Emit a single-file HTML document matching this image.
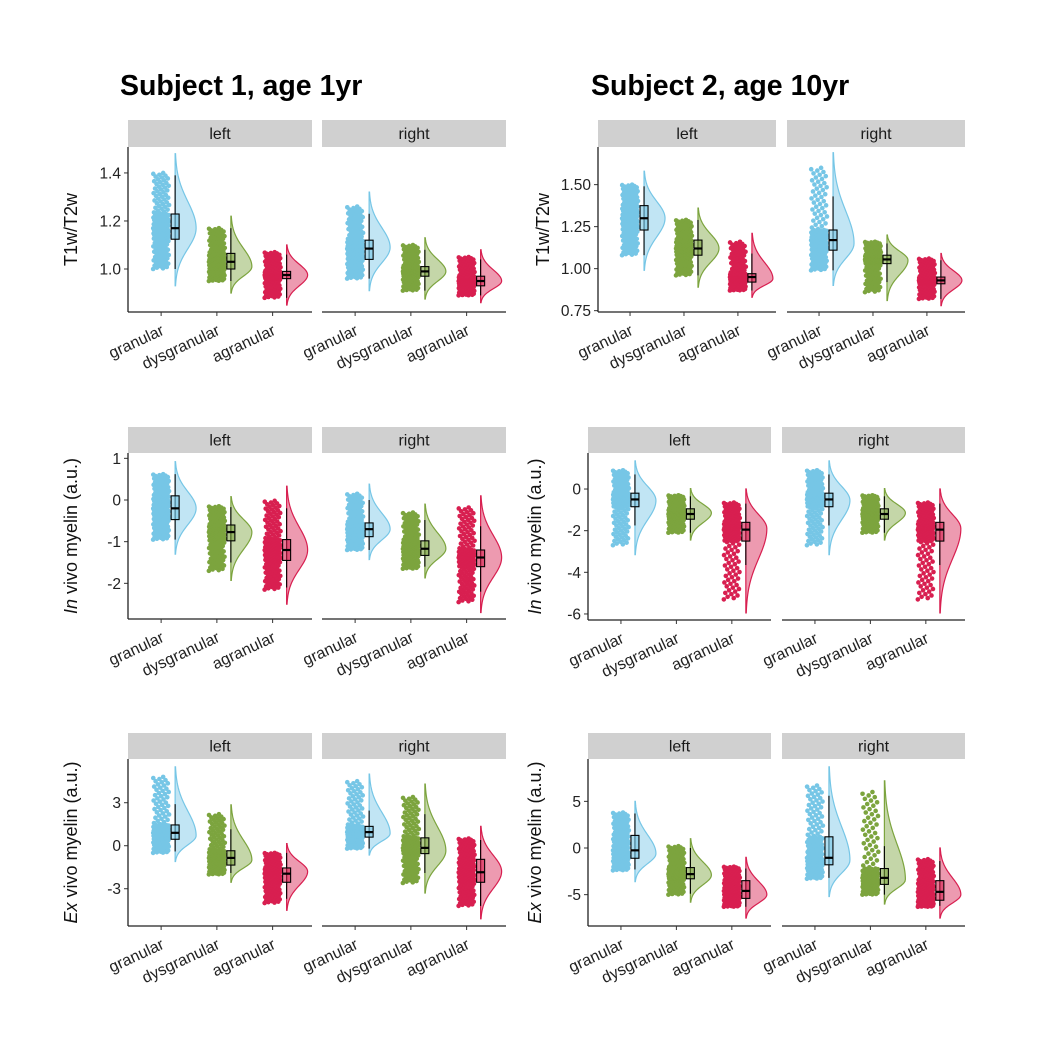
<!DOCTYPE html>
<html><head><meta charset="utf-8"><style>
html,body{margin:0;padding:0;background:#fff;}
svg{display:block;font-family:"Liberation Sans",Arial,sans-serif;}
</style></head><body>
<svg id="chart" width="1058" height="1052" viewBox="0 0 1058 1052" xmlns="http://www.w3.org/2000/svg">
<rect width="1058" height="1052" fill="#fff"/>
<text x="120" y="95" font-size="28.5" font-weight="bold" fill="#000">Subject 1, age 1yr</text>
<text x="591" y="95" font-size="28.5" font-weight="bold" fill="#000">Subject 2, age 10yr</text>
<g id="plots"></g>
</svg>
<script>
// ---- data (panel order: row1 S1 left/right, row1 S2 left/right, row2 ..., row3 ...) ----
const categories = ['granular','dysgranular','agranular'];
const hemispheres = ['left','right'];
const pointMin = [[1.0,0.95,0.88],[0.96,0.91,0.89],[1.08,0.96,0.87],[0.99,0.86,0.82],
  [-0.95,-1.7,-2.15],[-1.2,-1.65,-2.45],[-2.7,-2.1,-5.3],[-2.7,-2.1,-5.3],
  [-0.5,-2.0,-4.0],[-0.2,-2.6,-4.2],[-2.4,-5.0,-6.3],[-3.3,-5.0,-6.3]];
const q1 = [[1.124,1.0,0.96],[1.04,0.97,0.93],[1.23,1.08,0.92],[1.11,1.03,0.91],
  [-0.47,-0.98,-1.45],[-0.88,-1.33,-1.6],[-0.85,-1.45,-2.5],[-0.85,-1.45,-2.5],
  [0.45,-1.35,-2.55],[0.6,-0.55,-2.55],[-1.1,-3.3,-5.4],[-1.8,-3.9,-5.6]];
const median = [[1.17,1.03,0.975],[1.085,0.99,0.95],[1.30,1.12,0.95],[1.17,1.055,0.93],
  [-0.2,-0.77,-1.2],[-0.7,-1.17,-1.38],[-0.5,-1.2,-1.95],[-0.5,-1.2,-1.95],
  [0.9,-0.85,-1.95],[0.95,-0.15,-1.85],[-0.25,-2.8,-4.6],[-1.05,-3.2,-4.7]];
const q3 = [[1.229,1.065,0.99],[1.12,1.01,0.97],[1.375,1.17,0.97],[1.23,1.08,0.95],
  [0.1,-0.6,-0.95],[-0.55,-0.98,-1.2],[-0.2,-0.95,-1.6],[-0.2,-0.95,-1.6],
  [1.45,-0.35,-1.55],[1.35,0.55,-0.95],[1.35,-2.1,-3.5],[1.2,-2.2,-3.5]];
const pointMax = [[1.40,1.17,1.07],[1.26,1.10,1.05],[1.50,1.29,1.16],[1.60,1.16,1.06],
  [0.62,-0.15,-0.02],[0.15,-0.3,-0.18],[0.9,-0.3,-0.65],[0.9,-0.3,-0.65],
  [4.8,2.2,-0.5],[4.5,3.4,0.5],[3.8,0.2,-2.0],[6.7,6.0,-1.2]];
const whiskerLo = [[1.0,0.95,0.88],[0.96,0.91,0.89],[1.08,0.96,0.87],[0.99,0.92,0.82],
  [-0.95,-1.5,-2.1],[-1.2,-1.6,-2.2],[-1.75,-2.1,-3.65],[-1.75,-2.1,-3.65],
  [-0.4,-1.9,-3.7],[-0.2,-1.9,-4.2],[-2.3,-4.9,-6.3],[-3.2,-5.0,-6.2]];
const whiskerHi = [[1.39,1.17,1.06],[1.23,1.08,1.04],[1.49,1.29,1.09],[1.43,1.15,1.05],
  [0.62,-0.17,-0.2],[0.0,-0.48,-0.63],[0.7,-0.35,-0.7],[0.7,-0.35,-0.7],
  [2.9,1.15,-0.5],[2.45,2.2,0.4],[3.7,0.0,-2.2],[5.6,0.2,-1.4]];
const violinLo = [[0.93,0.90,0.85],[0.91,0.875,0.86],[0.99,0.89,0.83],[0.90,0.81,0.78],
  [-1.3,-1.93,-2.5],[-1.43,-1.87,-2.7],[-3.15,-2.45,-5.95],[-3.15,-2.45,-5.95],
  [-1.1,-2.55,-4.5],[-0.65,-3.3,-5.1],[-3.6,-5.8,-7.5],[-5.2,-6.0,-7.5]];
const violinHi = [[1.48,1.22,1.10],[1.32,1.13,1.08],[1.58,1.36,1.21],[1.69,1.20,1.09],
  [0.92,0.08,0.33],[0.38,-0.1,0.1],[1.35,0.02,0.0],[1.35,0.02,0.0],
  [5.5,2.85,0.15],[5.0,4.3,1.35],[5.0,1.0,-1.0],[8.7,7.2,0.0]];
const violinMode = [[1.17,1.01,0.975],[1.09,0.99,0.95],[1.30,1.12,0.94],[1.15,1.05,0.93],
  [-0.2,-0.77,-1.2],[-0.7,-1.17,-1.38],[-0.55,-1.15,-1.9],[-0.55,-1.15,-1.9],
  [0.7,-1.0,-1.8],[0.85,-0.35,-1.8],[-0.6,-2.9,-5.0],[-1.3,-3.4,-5.0]];
// axis data per facet grid (row1 S1, row1 S2, row2 S1, row2 S2, row3 S1, row3 S2)
const yDomains = [[0.821,1.508],[0.742,1.724],[-2.856,1.128],[-6.29,1.73],[-5.6,6.05],[-8.36,9.54]];
const yTicks = [[1.0,1.2,1.4],[0.75,1.0,1.25,1.5],[-2,-1,0,1],[-6,-4,-2,0],[-3,0,3],[-5,0,5]];
const yTickLabels = [['1.0','1.2','1.4'],['0.75','1.00','1.25','1.50'],['-2','-1','0','1'],['-6','-4','-2','0'],['-3','0','3'],['-5','0','5']];
const yTitles = [['T1w/T2w',''],['T1w/T2w',''],['In',' vivo myelin (a.u.)'],['In',' vivo myelin (a.u.)'],['Ex',' vivo myelin (a.u.)'],['Ex',' vivo myelin (a.u.)']];

// ---- layout ----
const grids = [
 {px:[128,322],w:184,strip:120,top:147,bot:312,tx:77},
 {px:[598,787],w:178,strip:120,top:147,bot:312,tx:549},
 {px:[128,322],w:184,strip:427,top:453,bot:619,tx:77},
 {px:[588,782],w:183,strip:427,top:453,bot:620,tx:541},
 {px:[128,322],w:184,strip:733,top:759,bot:926,tx:77},
 {px:[588,782],w:183,strip:733,top:759,bot:926,tx:541}];
const COLORS=['#76c6e6','#7ca43e','#d81f50'];
const NS='http://www.w3.org/2000/svg';
const root=document.getElementById('plots');
function mk(tag,attrs,parent){const e=document.createElementNS(NS,tag);for(const k in attrs)e.setAttribute(k,attrs[k]);(parent||root).appendChild(e);return e;}
function quant(v,p){if(p<=.25)return v[0]+(v[1]-v[0])*p/.25;if(p<=.5)return v[1]+(v[2]-v[1])*(p-.25)/.25;if(p<=.75)return v[2]+(v[3]-v[2])*(p-.5)/.25;return v[3]+(v[4]-v[3])*(p-.75)/.25;}

grids.forEach((g,gi)=>{
  const dom=yDomains[gi];
  const y=v=>g.bot-(v-dom[0])/(dom[1]-dom[0])*(g.bot-g.top);
  const grp=mk('g',{});
  
  
  const tt=mk('text',{transform:`translate(${g.tx},${(g.top+g.bot)/2}) rotate(-90)`,'text-anchor':'middle','font-size':18,fill:'#111'},grp);
  
  
  if(yTitles[gi][1]===''){tt.textContent=yTitles[gi][0];}
  else{const a=mk('tspan',{'font-style':'italic'},tt);a.textContent=yTitles[gi][0];const b=mk('tspan',{},tt);b.textContent=yTitles[gi][1];}
  const ax=g.px[0];
  yTicks[gi].forEach((t,ti)=>{
    const l=mk('line',{x1:ax-4,x2:ax,y1:y(t),y2:y(t),stroke:'#333','stroke-width':1},grp);
    
    
    const tx=mk('text',{x:ax-7,y:y(t)+5.5,'text-anchor':'end','font-size':15.5,fill:'#222'},grp);
    
    
    tx.textContent=yTickLabels[gi][ti];
  });
  const yl=mk('line',{x1:ax,x2:ax,y1:g.top,y2:g.bot,stroke:'#222','stroke-width':1.3},grp);
  
  
  g.px.forEach((px,hi)=>{
    const pi=gi*2+hi;
    const pg=mk('g',{},grp);
    
    
    const st=mk('rect',{x:px,y:g.strip,width:g.w,height:g.top-g.strip,fill:'#d0d0d0'},pg);
    
    
    const stt=mk('text',{x:px+g.w/2,y:(g.strip+g.top)/2+5.5,'text-anchor':'middle','font-size':16,fill:'#1a1a1a'},pg);
    
    
    stt.textContent=hemispheres[hi];
    const xl=mk('line',{x1:px,x2:px+g.w,y1:g.bot,y2:g.bot,stroke:'#222','stroke-width':1.3},pg);
    
    
    categories.forEach((c,ci)=>{
      const cx=px+0.18*g.w+0.303*g.w*ci;
      const col=COLORS[ci];
      const cg=mk('g',{},pg);
      
      
      const lo=violinLo[pi][ci],hi2=violinHi[pi][ci],mo=violinMode[pi][ci];
      const sL=(mo-lo)/2.8,sH=(hi2-mo)/2.8,bx=cx+14,W=21;
      let d=`M${bx},${y(lo)}`;
      for(let k=0;k<=60;k++){const v=lo+(hi2-lo)*k/60;const s=v<mo?sL:sH;const f=Math.exp(-0.5*((v-mo)/s)**2);d+=`L${(bx+W*f).toFixed(2)},${y(v).toFixed(2)}`;}
      d+=`L${bx},${y(hi2)}Z`;
      const vp=mk('path',{d:d,fill:col,'fill-opacity':0.45,stroke:col,'stroke-width':1.2},cg);
      
      
      const knots=[pointMin[pi][ci],q1[pi][ci],median[pi][ci],q3[pi][ci],pointMax[pi][ci]];
      const N=180;
      for(let k=0;k<N;k++){
        const p=k/(N-1);const v=quant(knots,p);
        const jx=((k*0.6180339)%1)*16-8;
        const pt=mk('circle',{cx:(cx+jx).toFixed(2),cy:y(v).toFixed(2),r:2.3,fill:col},cg);
        
        
      }
      const wl=mk('line',{x1:bx,x2:bx,y1:y(whiskerLo[pi][ci]),y2:y(whiskerHi[pi][ci]),stroke:'#000','stroke-width':1.1},cg);
      
      
      const bxr=mk('rect',{x:bx-4,y:y(q3[pi][ci]),width:8,height:Math.max(1,y(q1[pi][ci])-y(q3[pi][ci])),fill:col,'fill-opacity':0.6,stroke:'#000','stroke-width':1.1},cg);
      
      
      const md=mk('line',{x1:bx-4,x2:bx+4,y1:y(median[pi][ci]),y2:y(median[pi][ci]),stroke:'#000','stroke-width':2.2},cg);
      
      
      const xt=mk('line',{x1:cx,x2:cx,y1:g.bot,y2:g.bot+4,stroke:'#333','stroke-width':1},pg);
      
      
      const lb=mk('text',{transform:`translate(${cx+4},${g.bot+22}) rotate(-25)`,'text-anchor':'end','font-size':16,fill:'#222'},pg);
      
      
      lb.textContent=c;
    });
  });
});
</script>
</body></html>
